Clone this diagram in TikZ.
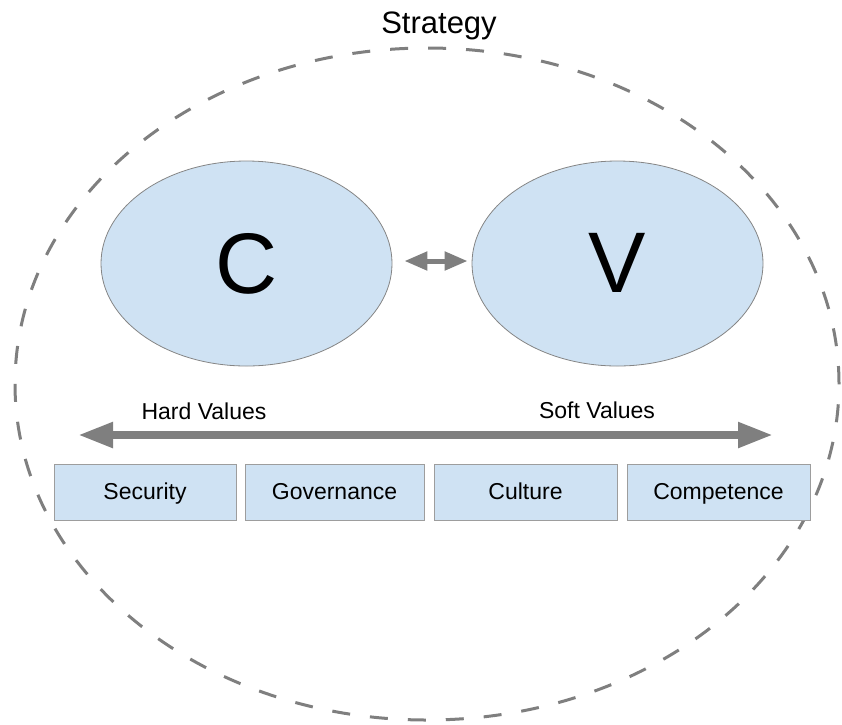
\documentclass[tikz,border=0pt]{standalone}
\usepackage{fontspec}
\setmainfont{Liberation Sans}
\usetikzlibrary{arrows.meta,shapes.geometric,calc}
\definecolor{fillblue}{HTML}{CFE2F3}
\definecolor{edgegray}{HTML}{858585}
\definecolor{arrgray}{HTML}{7F7F7F}
\tikzset{
  bigell/.style={ellipse, draw=edgegray, line width=0.8pt, fill=fillblue, inner sep=0pt},
  valbox/.style={draw=edgegray!80, line width=0.8pt, fill=fillblue, minimum height=56pt, inner sep=0pt},
  boxtext/.style={font=\fontsize{23}{27}\selectfont, anchor=base},
  lbl/.style={font=\fontsize{23}{27}\selectfont, anchor=base},
}
\begin{document}
\begin{tikzpicture}[x=1pt,y=-1pt]
\useasboundingbox (0,0) rectangle (842,724);
% outer dashed ellipse
\node[ellipse, draw=arrgray, line width=3pt, dash pattern=on 18pt off 20pt, minimum width=824pt, minimum height=672pt, inner sep=0pt] (strat) at (427,384) {};
\node[font=\fontsize{31}{36}\selectfont, anchor=base] (stratlbl) at (439,33) {Strategy};
% C and V ellipses
\node[bigell, minimum width=291pt, minimum height=205pt] (C) at (246.5,263.5) {};
\node[bigell, minimum width=291pt, minimum height=205pt] (V) at (617.5,263.5) {};
\node[font=\fontsize{86}{96}\selectfont, anchor=base] (Ct) at (246.5,293) {C};
\node[font=\fontsize{86}{96}\selectfont, anchor=base] (Vt) at (617.5,292) {V};
% small double arrow
\coordinate (ca) at ($(C.east)+(12pt,2.5pt)$);
\coordinate (va) at ($(V.west)+(-4pt,2.5pt)$);
\draw[arrgray, line width=5pt, {Triangle[length=23pt 0,width=18pt 0]}-{Triangle[length=23pt 0,width=18pt 0]}] (ca) -- (va);
% big arrow
\coordinate (al) at (78,435);
\coordinate (ar) at (773,435);
\draw[arrgray, line width=8pt, {Triangle[length=35pt 0,width=24pt 0]}-{Triangle[length=35pt 0,width=24pt 0]}] (al) -- (ar);
\node[lbl] (hard) at (204,419) {Hard Values};
\node[lbl] (soft) at (597,418) {Soft Values};
% boxes
\node[valbox, minimum width=182pt] (sec) at (145,492) {};
\node[valbox, minimum width=179pt] (gov) at (334.5,492) {};
\node[valbox, minimum width=183pt] (cul) at (525.5,492) {};
\node[valbox, minimum width=183pt] (com) at (718.5,492) {};
\node[boxtext] at (145,499) {Security};
\node[boxtext] at (334.5,499) {Governance};
\node[boxtext] at (525.5,499) {Culture};
\node[boxtext] at (718.5,499) {Competence};
\end{tikzpicture}
\end{document}
